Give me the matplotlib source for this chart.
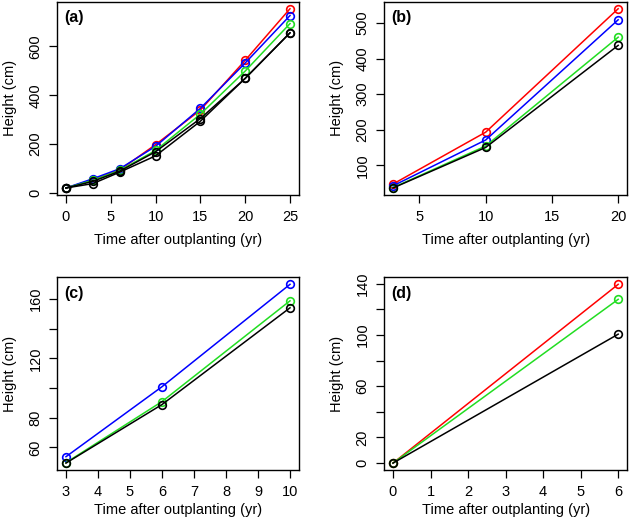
import matplotlib
matplotlib.use("Agg")
import matplotlib.pyplot as plt

plt.rcParams['font.family'] = ['Liberation Sans', 'DejaVu Sans']
plt.rcParams['font.size'] = 10.5

# panel (a)
years_a = [0, 3, 6, 10, 15, 20, 25]
red_a = [19, 52, 93, 197, 339, 543, 755]
blue_a = [19, 57, 98, 190, 346, 532, 727]
green_a = [19, 50, 91, 173, 322, 499, 694]
black_a = [19, 46, 88, 168, 304, 469, 656]
black2_a = [19, 37, 84, 151, 293, 469, 656]

# panel (b)
years_b = [3, 10, 20]
red_b = [47, 193, 540]
blue_b = [42, 171, 509]
green_b = [37, 154, 460]
black_b = [36, 150, 437]

# panel (c)
years_c = [3, 6, 10]
blue_c = [53.8, 100.9, 169.8]
green_c = [49.8, 90.9, 158.7]
black_c = [49.5, 88.9, 154.0]

# panel (d)
years_d = [0, 6]
red_d = [0, 139.5]
green_d = [0, 127.8]
black_d = [0, 100.6]

GREEN = '#22DD22'


def draw(ax, x, series, label, xticks, yticks, ylabels, xpad):
    for y, c in series:
        ax.plot(x, y, color=c, lw=1.1, marker='o', ms=5.5, mfc='none',
                mec=c, mew=1.2)
    ax.margins(x=0.04, y=0.04)
    ax.set_xticks(xticks)
    ax.set_yticks(yticks)
    ax.set_yticklabels(ylabels, rotation=90, va='center')
    ax.tick_params(length=5.5, width=0.9, pad=5)
    ax.tick_params(axis='y', pad=5)
    ax.set_xlabel('Time after outplanting (yr)', labelpad=xpad)
    ax.set_ylabel('Height (cm)', labelpad=8)
    for s in ax.spines.values():
        s.set_linewidth(1.0)
    ax.text(0.03, 0.955, label, transform=ax.transAxes, fontweight='bold',
            va='top', ha='left', fontsize=11.5)


fig = plt.figure(figsize=(6.3, 5.26), dpi=100)
ax_a = fig.add_axes([0.0905, 0.629, 0.384, 0.368])
ax_b = fig.add_axes([0.6095, 0.629, 0.386, 0.368])
ax_c = fig.add_axes([0.0905, 0.106, 0.384, 0.367])
ax_d = fig.add_axes([0.6095, 0.106, 0.386, 0.367])

draw(ax_a, years_a,
     [(red_a, 'red'), (blue_a, 'blue'), (green_a, GREEN),
      (black_a, 'black'), (black2_a, 'black')],
     '(a)', [0, 5, 10, 15, 20, 25], [0, 200, 400, 600],
     ['0', '200', '400', '600'], 7)
draw(ax_b, years_b,
     [(red_b, 'red'), (blue_b, 'blue'), (green_b, GREEN), (black_b, 'black')],
     '(b)', [5, 10, 15, 20], [100, 200, 300, 400, 500],
     ['100', '200', '300', '400', '500'], 7)
draw(ax_c, years_c,
     [(blue_c, 'blue'), (green_c, GREEN), (black_c, 'black')],
     '(c)', [3, 4, 5, 6, 7, 8, 9, 10], [60, 80, 100, 120, 140, 160],
     ['60', '80', '', '120', '', '160'], 3)
draw(ax_d, years_d,
     [(red_d, 'red'), (green_d, GREEN), (black_d, 'black')],
     '(d)', [0, 1, 2, 3, 4, 5, 6], [0, 20, 40, 60, 80, 100, 120, 140],
     ['0', '20', '', '60', '', '100', '', '140'], 3)

fig.savefig('out.png', dpi=100)
